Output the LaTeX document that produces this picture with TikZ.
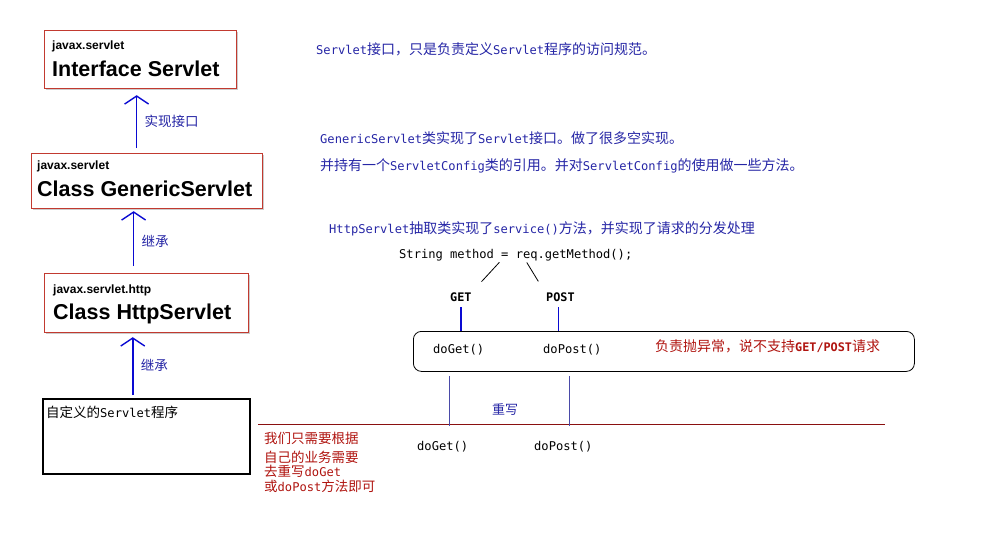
\documentclass[tikz,border=0pt]{standalone}
\usepackage{fontspec}
\setmainfont{Liberation Sans}
\newfontfamily\cjk{Noto Sans CJK SC}
\newfontfamily\monofnt{DejaVu Sans Mono}
\usetikzlibrary{arrows.meta, shadows, positioning, calc}
\definecolor{boxred}{HTML}{C23A30}
\definecolor{noteblue}{HTML}{2626A6}
\definecolor{arrowblue}{HTML}{0A0AD2}
\definecolor{notered}{HTML}{B0140F}
\definecolor{linered}{HTML}{8A1010}
\definecolor{slateline}{HTML}{4A4AA8}
\newcommand{\mn}[1]{{\monofnt\fontsize{12.1}{14}\selectfont #1}}
\newcommand{\mnb}[1]{{\monofnt\bfseries\fontsize{11.8}{14}\selectfont #1}}

\tikzset{
  classbox/.style={draw=boxred, line width=1.2pt, fill=white, anchor=north west,
    drop shadow={shadow xshift=1.5pt, shadow yshift=-1.5pt, opacity=0.4}},
  pkgtext/.style={anchor=base west, inner sep=0pt, font=\bfseries\fontsize{12}{14}\selectfont},
  nametext/.style={anchor=base west, inner sep=0pt, font=\bfseries\fontsize{21.5}{24}\selectfont},
  extarrow/.style={arrowblue, line width=1.6pt, -{Straight Barb[length=8pt, width=24pt, line width=1.4pt]}},
  arrowlabel/.style={right=4pt, text=noteblue, font=\cjk\fontsize{13.5}{15}\selectfont},
  note/.style={anchor=base west, inner sep=0pt, text=noteblue, font=\cjk\fontsize{14}{16}\selectfont},
  rednote/.style={anchor=base west, inner sep=0pt, text=notered, font=\cjk\fontsize{14}{16}\selectfont},
  code/.style={anchor=base west, inner sep=0pt, font=\monofnt\fontsize{12.1}{14}\selectfont},
}

\begin{document}
\begin{tikzpicture}[x=1pt, y=-1pt]
  \useasboundingbox[fill=white] (0,0) rectangle (990,535);

  % 类层次
  \node[classbox, minimum width=192pt, minimum height=58pt] (servlet) at (44,30) {};
  \node[pkgtext] (servletpkg) at ([shift={(8pt,-20pt)}]servlet.north west) {javax.servlet};
  \node[nametext] (servletname) at ([shift={(8pt,-46pt)}]servlet.north west) {Interface Servlet};

  \node[classbox, minimum width=231pt, minimum height=55pt] (generic) at (31,153) {};
  \node[pkgtext] (genericpkg) at ([shift={(6pt,-16pt)}]generic.north west) {javax.servlet};
  \node[nametext] (genericname) at ([shift={(6pt,-43pt)}]generic.north west) {Class GenericServlet};

  \node[classbox, minimum width=204pt, minimum height=59pt] (http) at (44,273) {};
  \node[pkgtext] (httppkg) at ([shift={(9pt,-20pt)}]http.north west) {javax.servlet.http};
  \node[nametext] (httpname) at ([shift={(9pt,-46pt)}]http.north west) {Class HttpServlet};

  \node[draw, line width=1.5pt, anchor=north west, minimum width=207pt, minimum height=75pt] (custom) at (42,398) {};
  \node[anchor=base west, inner sep=0pt, font=\cjk\fontsize{13.5}{15}\selectfont] (customname)
    at ([shift={(4pt,-19pt)}]custom.north west) {自定义的\mn{Servlet}程序};

  % 继承箭头
  \draw[extarrow, shorten <=5pt, shorten >=6pt] ([xshift=-10.5pt]generic.north) -- ([xshift=-10.5pt]generic.north |- servlet.south)
    node[midway, arrowlabel] {实现接口};
  \draw[extarrow, shorten <=7pt, shorten >=2pt] ([xshift=-13pt]http.north) -- ([xshift=-13pt]http.north |- generic.south)
    node[midway, arrowlabel] {继承};
  \draw[extarrow, shorten <=3pt, shorten >=4pt] ([xshift=-13.5pt]custom.north) -- ([xshift=-13.5pt]custom.north |- http.south)
    node[midway, arrowlabel] {继承};

  % 右侧说明
  \node[note] (servletnote) at (316,55) {\mn{Servlet}接口，只是负责定义\mn{Servlet}程序的访问规范。};
  \node[note] (genericnote1) at (320,143) {\mn{GenericServlet}类实现了\mn{Servlet}接口。做了很多空实现。};
  \node[note] (genericnote2) at (320,170) {并持有一个\mn{ServletConfig}类的引用。并对\mn{ServletConfig}的使用做一些方法。};
  \node[note] (httpnote) at (329,233) {\mn{HttpServlet}抽取类实现了\mn{service()}方法，并实现了请求的分发处理};

  \node[code] (method) at (399,258) {String method = req.getMethod();};
  \node[anchor=base west, inner sep=3pt] (get) at (447,301) {\mnb{GET}};
  \node[anchor=base west, inner sep=3pt] (post) at (543,301) {\mnb{POST}};
  \draw[line width=0.8pt, shorten <=2pt, shorten >=10pt] ([xshift=-15pt]method.south) -- (get.north east);
  \draw[line width=0.8pt, shorten <=2pt, shorten >=9pt] ([xshift=10pt]method.south) -- (post.north west);

  % 分发
  \node[draw, line width=0.8pt, rounded corners=8pt, anchor=north west, minimum width=501pt, minimum height=40pt] (dispatch) at (413,331) {};
  \draw[arrowblue, line width=1.6pt, shorten <=3pt] (get.south) -- (get.south |- dispatch.north);
  \draw[arrowblue, line width=1.6pt, shorten <=3pt] ([xshift=-2pt]post.south) -- ([xshift=-2pt]post.south |- dispatch.north);
  \node[code] (doget) at (433,353) {doGet()};
  \node[code] (dopost) at (543,353) {doPost()};
  \node[rednote] (errnote) at (655,351) {负责抛异常，说不支持{\monofnt\bfseries\fontsize{11.8}{14}\selectfont GET/POST}请求};

  % 重写
  \coordinate (overL) at (258,424);
  \coordinate (overR) at (885,424);
  \draw[linered, line width=1pt] (overL) -- (overR);
  \draw[slateline, line width=1pt] ([xshift=36pt, yshift=-4pt]dispatch.south west) -- ([xshift=36pt, yshift=-2pt]dispatch.south west |- overL);
  \draw[slateline, line width=1pt] ([xshift=156pt, yshift=-4pt]dispatch.south west) -- ([xshift=156pt, yshift=-2pt]dispatch.south west |- overL);
  \node[note, font=\cjk\fontsize{13}{15}\selectfont] (overnote) at (492,414) {重写};
  \node[code] (mydoget) at (417,450) {doGet()};
  \node[code] (mydopost) at (534,450) {doPost()};
  \node[rednote, font=\cjk\fontsize{13.5}{15}\selectfont] (mynote1) at (264,443) {我们只需要根据};
  \node[rednote, font=\cjk\fontsize{13.5}{15}\selectfont] (mynote2) at (264,462) {自己的业务需要};
  \node[rednote, font=\cjk\fontsize{13.5}{15}\selectfont] (mynote3) at (264,476) {去重写\mn{doGet}};
  \node[rednote, font=\cjk\fontsize{13.5}{15}\selectfont] (mynote4) at (264,491) {或\mn{doPost}方法即可};
\end{tikzpicture}
\end{document}
